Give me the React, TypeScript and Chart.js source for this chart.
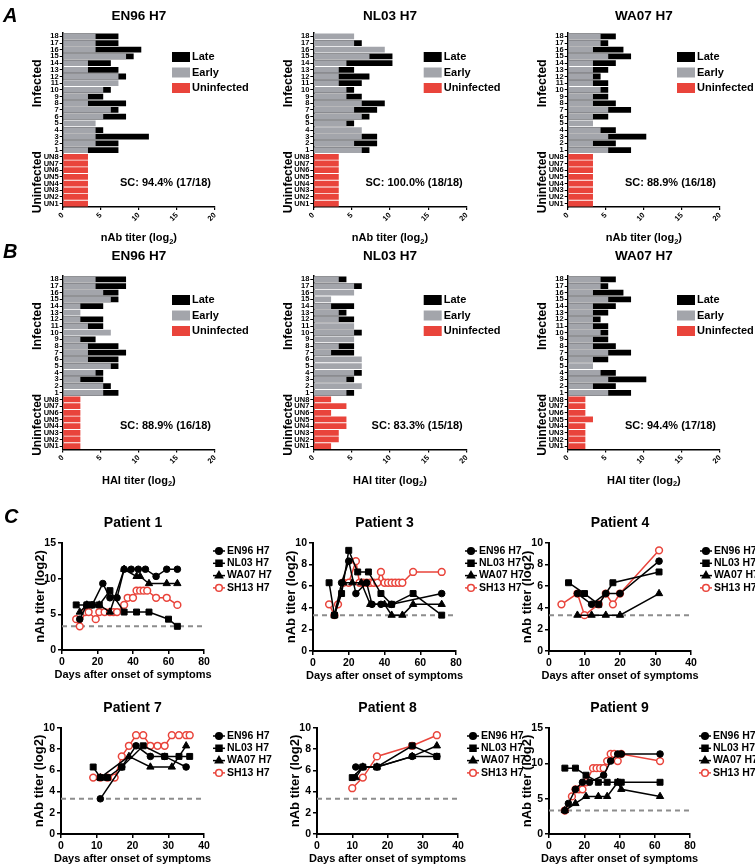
import React, { useEffect, useRef } from "react";
import { Chart, registerables } from "chart.js";
Chart.register(...registerables);

const FONT = "'Liberation Sans', Arial, Helvetica, sans-serif";
const GREY = "#a3a5ab";
const RED = "#e9443b";
const BLACK = "#000000";

// ---------- Panel A / B data (rows listed top → bottom: 18 … 1, UN8 … UN1) ----------
const infectedRows = ["18","17","16","15","14","13","12","11","10","9","8","7","6","5","4","3","2","1"];
const uninfectedRows = ["UN8","UN7","UN6","UN5","UN4","UN3","UN2","UN1"];

const aEN96Early = [4.32,4.32,4.32,8.32,3.32,3.32,7.32,7.32,5.32,3.32,3.32,6.32,5.32,4.32,4.32,4.32,4.32,3.32];
const aEN96Late = [7.32,7.32,10.32,9.32,6.32,7.32,8.32,null,6.32,5.32,8.32,7.32,8.32,null,5.32,11.32,7.32,7.32];
const aEN96Unin = [3.32,3.32,3.32,3.32,3.32,3.32,3.32,3.32];

const aNL03Early = [5.32,5.32,9.32,7.32,4.32,3.32,3.32,3.32,4.32,4.32,6.32,5.32,6.32,4.32,6.32,6.32,5.32,6.32];
const aNL03Late = [null,6.32,null,10.32,10.32,5.32,7.32,6.32,5.32,6.32,9.32,8.32,7.32,5.32,null,8.32,8.32,7.32];
const aNL03Unin = [3.32,3.32,3.32,3.32,3.32,3.32,3.32,3.32];

const aWA07Early = [4.32,4.32,3.32,5.32,3.32,3.32,3.32,3.32,4.32,3.32,3.32,5.32,3.32,3.32,4.32,5.32,3.32,5.32];
const aWA07Late = [6.32,5.32,7.32,8.32,6.32,5.32,4.32,5.32,5.32,5.32,6.32,8.32,5.32,null,6.32,10.32,6.32,8.32];
const aWA07Unin = [3.32,3.32,3.32,3.32,3.32,3.32,3.32,3.32];

const bEN96Early = [4.32,4.32,5.32,6.32,2.32,2.32,2.32,3.32,6.32,2.32,3.32,3.32,3.32,6.32,4.32,2.32,5.32,5.32];
const bEN96Late = [8.32,8.32,7.32,7.32,5.32,null,5.32,5.32,null,4.32,7.32,8.32,7.32,7.32,5.32,5.32,6.32,7.32];
const bEN96Unin = [2.32,2.32,2.32,2.32,2.32,2.32,2.32,2.32];

const bNL03Early = [3.32,5.32,5.32,2.32,2.32,3.32,3.32,5.32,5.32,5.32,3.32,2.32,6.32,6.32,5.32,4.32,6.32,4.32];
const bNL03Late = [4.32,6.32,null,null,5.32,4.32,5.32,null,6.32,null,5.32,5.32,null,null,6.32,5.32,null,5.32];
const bNL03Unin = [2.32,4.32,2.32,4.32,4.32,3.32,3.32,2.32];

const bWA07Early = [4.32,4.32,3.32,5.32,3.32,3.32,3.32,3.32,4.32,3.32,3.32,5.32,3.32,3.32,4.32,5.32,3.32,5.32];
const bWA07Late = [6.32,5.32,7.32,8.32,6.32,5.32,4.32,5.32,5.32,5.32,6.32,8.32,5.32,null,6.32,10.32,6.32,8.32];
const bWA07Unin = [2.32,2.32,2.32,3.32,2.32,2.32,2.32,2.32];

// ---------- Panel C data: [day, log2 titer] ----------
const p1EN96 = [[10,4.32],[14,6.32],[17,6.32],[23,9.32],[27,7.32],[31,7.32],[35,11.32],[39,11.32],[43,11.32],[47,11.32],[53,10.32],[59,11.32],[65,11.32]];
const p1NL03 = [[8,6.32],[14,6.32],[17,6.32],[21,6.32],[27,8.32],[35,5.32],[42,5.32],[49,5.32],[60,4.32],[65,3.32]];
const p1WA07 = [[10,5.32],[14,6.32],[21,6.32],[27,5.32],[35,11.32],[42,10.32],[44,10.32],[49,9.32],[59,9.32],[65,9.32]];
const p1SH13 = [[8,4.32],[10,3.32],[13,5.32],[15,5.32],[19,4.32],[21,5.32],[24,5.32],[27,5.32],[29,5.32],[31,5.32],[35,6.32],[37,7.32],[40,7.32],[42,8.32],[44,8.32],[46,8.32],[48,8.32],[53,7.32],[59,7.32],[65,6.32]];

const p3EN96 = [[12,3.32],[16,6.32],[20,8.32],[24,5.32],[30,6.32],[33,4.32],[38,4.32],[44,4.32],[72,5.32]];
const p3NL03 = [[9,6.32],[12,3.32],[16,5.32],[20,9.32],[25,7.32],[31,7.32],[38,5.32],[44,4.32],[56,5.32],[72,3.32]];
const p3WA07 = [[12,3.32],[17,6.32],[22,6.32],[27,6.32],[32,4.32],[40,4.32],[44,3.32],[50,3.32],[56,4.32],[72,4.32]];
const p3SH13 = [[9,4.32],[12,3.32],[14,4.32],[17,6.32],[20,6.32],[24,8.32],[26,6.32],[28,6.32],[30,6.32],[32,6.32],[34,6.32],[36,6.32],[38,7.32],[40,6.32],[42,6.32],[44,6.32],[46,6.32],[48,6.32],[50,6.32],[56,7.32],[72,7.32]];

const p4EN96 = [[8,5.32],[12,4.32],[16,5.32],[20,5.32],[31,8.32]];
const p4NL03 = [[5.5,6.32],[10,5.32],[14,4.32],[18,6.32],[31,7.32]];
const p4WA07 = [[8,3.32],[12,3.32],[16,3.32],[20,3.32],[31,5.32]];
const p4SH13 = [[3.5,4.32],[8,5.32],[10,3.32],[14,4.32],[16,5.32],[18,4.32],[20,5.32],[31,9.32]];

const p7EN96 = [[11,3.32],[17,6.32],[21,8.32],[25,7.32],[29,7.32],[35,6.32]];
const p7NL03 = [[9,6.32],[11,5.32],[13,5.32],[17,6.32],[23,8.32],[29,7.32],[33,7.32],[36,7.32]];
const p7WA07 = [[11,5.32],[19,7.32],[25,6.32],[31,6.32],[35,8.32]];
const p7SH13 = [[9,5.32],[11,5.32],[13,5.32],[15,5.32],[17,7.32],[19,8.32],[21,9.32],[23,9.32],[25,8.32],[27,8.32],[29,8.32],[31,9.32],[33,9.32],[35,9.32],[36,9.32]];

const p8EN96 = [[11,6.32],[13,6.32],[17,6.32],[27,7.32],[34,7.32]];
const p8NL03 = [[10,5.32],[13,6.32],[17,6.32],[27,8.32],[34,7.32]];
const p8WA07 = [[11,5.32],[13,6.32],[17,6.32],[27,7.32],[34,8.32]];
const p8SH13 = [[10,4.32],[13,5.32],[17,7.32],[27,8.32],[34,9.32]];

const p9EN96 = [[9,3.32],[11,4.32],[15,6.32],[19,7.32],[23,7.32],[31,8.32],[35,10.32],[39,11.32],[41,11.32],[63,11.32]];
const p9NL03 = [[9,9.32],[15,9.32],[21,8.32],[28,7.32],[33,7.32],[39,7.32],[41,7.32],[63,7.32]];
const p9WA07 = [[9,3.32],[15,4.32],[21,5.32],[28,5.32],[33,5.32],[39,7.32],[41,6.32],[63,5.32]];
const p9SH13 = [[9,3.32],[13,5.32],[15,6.32],[17,6.32],[19,6.32],[21,7.32],[25,9.32],[27,9.32],[29,9.32],[31,9.32],[33,10.32],[35,11.32],[37,11.32],[39,10.32],[41,11.32],[63,10.32]];

const seriesNames = ["EN96 H7", "NL03 H7", "WA07 H7", "SH13 H7"];
const detectionLimit = 3.32;

// ---------- helpers ----------
type Rect = { x: number; y: number; w: number; h: number };
type Area = { l: number; t: number; r: number; b: number };

function pad(rect: Rect, area: Area, yw: number, xh: number) {
  return {
    left: area.l - rect.x - yw,
    top: area.t - rect.y,
    right: rect.x + rect.w - area.r,
    bottom: rect.y + rect.h - area.b - xh,
  };
}

function txt(ctx: CanvasRenderingContext2D, s: string, x: number, y: number, font: string, align: CanvasTextAlign = "center", rot = 0, color = BLACK) {
  ctx.save();
  ctx.translate(x, y);
  if (rot) ctx.rotate(rot);
  ctx.font = font;
  ctx.fillStyle = color;
  ctx.textAlign = align;
  ctx.textBaseline = "middle";
  ctx.fillText(s, 0, 0);
  ctx.restore();
}

function subTitle(ctx: CanvasRenderingContext2D, pre: string, sub: string, post: string, cx: number, cy: number) {
  const f1 = `bold 11px ${FONT}`;
  const f2 = `bold 7.5px ${FONT}`;
  ctx.save();
  ctx.font = f1;
  const w1 = ctx.measureText(pre).width;
  const w3 = ctx.measureText(post).width;
  ctx.font = f2;
  const w2 = ctx.measureText(sub).width;
  let x = cx - (w1 + w2 + w3) / 2;
  ctx.fillStyle = BLACK;
  ctx.textAlign = "left";
  ctx.textBaseline = "alphabetic";
  ctx.font = f1; ctx.fillText(pre, x, cy + 4); x += w1;
  ctx.font = f2; ctx.fillText(sub, x, cy + 6.5); x += w2;
  ctx.font = f1; ctx.fillText(post, x, cy + 4);
  ctx.restore();
}

// ---------- bar charts (panels A, B) ----------
type BarSpec = {
  rect: Rect; area: Area; title: string; titleDy: number; xPre: string; sc: string;
  early: (number | null)[]; late: (number | null)[]; unin: number[];
};

function barConfig(s: BarSpec): any {
  const YW = 22, XH = 18;
  const none = (n: number) => Array(n).fill(null);
  const nInf = s.early.length, nUn = s.unin.length;
  const decor = {
    id: "decor",
    afterDraw(chart: any) {
      const ctx = chart.ctx as CanvasRenderingContext2D;
      const a = chart.chartArea;
      const y = chart.scales.y;
      const cx = (a.left + a.right) / 2;
      txt(ctx, s.title, cx, a.top - s.titleDy, `bold 13.5px ${FONT}`);
      subTitle(ctx, s.xPre + " titer (log", "2", ")", cx, a.bottom + 30);
      const yInf = (y.getPixelForValue(0) + y.getPixelForValue(nInf - 1)) / 2 - 10;
      const yUn = (y.getPixelForValue(nInf) + y.getPixelForValue(nInf + nUn - 1)) / 2 + 2;
      txt(ctx, "Infected", a.left - 25, yInf, `bold 12.5px ${FONT}`, "center", -Math.PI / 2);
      txt(ctx, "Uninfected", a.left - 25, yUn, `bold 12px ${FONT}`, "center", -Math.PI / 2);
      const items: [string, string][] = [["Late", BLACK], ["Early", GREY], ["Uninfected", RED]];
      const bx = a.right - 43;
      items.forEach(([label, color], i) => {
        const cy = a.top + 24 + i * 15.5;
        ctx.fillStyle = color;
        ctx.fillRect(bx, cy - 5, 18, 10);
        txt(ctx, label, bx + 20, cy, `bold 11px ${FONT}`, "left");
      });
      txt(ctx, s.sc, a.right - 4, a.bottom - 24, `bold 11px ${FONT}`, "right");
    },
  };
  return {
    type: "bar",
    data: {
      labels: [...infectedRows, ...uninfectedRows],
      datasets: [
        { label: "Early", data: [...s.early, ...none(nUn)], backgroundColor: GREY, grouped: false },
        { label: "Late", data: [...s.late, ...none(nUn)], backgroundColor: BLACK, grouped: false },
        { label: "Uninfected", data: [...none(nInf), ...s.unin], backgroundColor: RED, grouped: false },
      ],
    },
    options: {
      indexAxis: "y",
      responsive: false,
      animation: false,
      events: [],
      layout: { padding: pad(s.rect, s.area, YW, XH) },
      datasets: { bar: { categoryPercentage: 0.86, barPercentage: 1 } },
      plugins: { legend: { display: false }, tooltip: { enabled: false }, title: { display: false } },
      scales: {
        x: {
          type: "linear", min: 0, max: 20,
          ticks: { stepSize: 5, minRotation: 45, maxRotation: 45, color: BLACK, padding: 1, font: { family: FONT, size: 7.5, weight: "bold" } },
          grid: { drawOnChartArea: false, drawTicks: true, tickLength: 3, color: BLACK, lineWidth: 1.2 },
          border: { display: true, color: BLACK, width: 1.5 },
          afterFit: (sc: any) => { sc.height = XH; },
        },
        y: {
          ticks: { autoSkip: false, color: BLACK, padding: 1, font: { family: FONT, size: 7.5, weight: "bold" } },
          grid: { offset: false, drawOnChartArea: false, drawTicks: true, tickLength: 3, color: BLACK, lineWidth: 1 },
          border: { display: true, color: BLACK, width: 1.5 },
          afterFit: (sc: any) => { sc.width = YW; },
        },
      },
    },
    plugins: [decor],
  };
}

// ---------- line charts (panel C) ----------
type LineSpec = {
  rect: Rect; area: Area; title: string; xMax: number; xStep: number; yMax: number; yStep: number;
  series: number[][][];
};

const markerStyles = [
  { pointStyle: "circle", color: BLACK, fill: BLACK, r: 3.3 },
  { pointStyle: "rect", color: BLACK, fill: BLACK, r: 4.2 },
  { pointStyle: "triangle", color: BLACK, fill: BLACK, r: 4.2 },
  { pointStyle: "circle", color: RED, fill: "#ffffff", r: 3.4 },
];

function drawMarker(ctx: CanvasRenderingContext2D, style: string, x: number, y: number, stroke: string, fill: string) {
  ctx.save();
  ctx.fillStyle = fill;
  ctx.strokeStyle = stroke;
  ctx.lineWidth = 1.5;
  ctx.beginPath();
  if (style === "circle") ctx.arc(x, y, 3.3, 0, Math.PI * 2);
  else if (style === "rect") ctx.rect(x - 3, y - 3, 6, 6);
  else { ctx.moveTo(x, y - 4); ctx.lineTo(x + 3.6, y + 2.2); ctx.lineTo(x - 3.6, y + 2.2); ctx.closePath(); }
  ctx.fill();
  ctx.stroke();
  ctx.restore();
}

function lineConfig(s: LineSpec): any {
  const YW = 30, XH = 18;
  const decor = {
    id: "decor",
    afterDraw(chart: any) {
      const ctx = chart.ctx as CanvasRenderingContext2D;
      const a = chart.chartArea;
      const cx = (a.left + a.right) / 2;
      const cy = (a.top + a.bottom) / 2;
      txt(ctx, s.title, cx, a.top - 20, `bold 14px ${FONT}`);
      txt(ctx, "nAb titer (log2)", a.left - 22, cy, `bold 13px ${FONT}`, "center", -Math.PI / 2);
      txt(ctx, "Days after onset of symptoms", cx, a.bottom + 25, `bold 11px ${FONT}`);
      seriesNames.forEach((name, i) => {
        const st = markerStyles[i];
        const ly = a.top + 8 + i * 12.3;
        const lx = a.right + 9;
        ctx.save();
        ctx.strokeStyle = st.color;
        ctx.lineWidth = 1.5;
        ctx.beginPath(); ctx.moveTo(lx, ly); ctx.lineTo(lx + 12, ly); ctx.stroke();
        ctx.restore();
        drawMarker(ctx, st.pointStyle, lx + 6, ly, st.color, st.fill);
        txt(ctx, name, lx + 14, ly, `bold 10.5px ${FONT}`, "left");
      });
    },
  };
  const datasets: any[] = s.series.map((pts, i) => {
    const st = markerStyles[i];
    return {
      label: seriesNames[i],
      data: pts.map(([x, y]) => ({ x, y })),
      showLine: true,
      borderColor: st.color,
      borderWidth: 1.5,
      pointStyle: st.pointStyle,
      pointRadius: st.r,
      pointBackgroundColor: st.fill,
      pointBorderColor: st.color,
      pointBorderWidth: i === 3 ? 1.5 : 1,
    };
  });
  datasets.push({
    label: "limit",
    data: [{ x: 0, y: detectionLimit }, { x: s.xMax, y: detectionLimit }],
    showLine: true,
    borderColor: "#8d8d8d",
    borderWidth: 2,
    borderDash: [5, 4],
    pointRadius: 0,
  });
  return {
    type: "scatter",
    data: { datasets },
    options: {
      responsive: false,
      animation: false,
      events: [],
      layout: { padding: pad(s.rect, s.area, YW, XH) },
      plugins: { legend: { display: false }, tooltip: { enabled: false }, title: { display: false } },
      scales: {
        x: {
          type: "linear", min: 0, max: s.xMax,
          ticks: { stepSize: s.xStep, color: BLACK, padding: 2, maxRotation: 0, font: { family: FONT, size: 10.5, weight: "bold" } },
          grid: { drawOnChartArea: false, drawTicks: true, tickLength: 4, color: BLACK, lineWidth: 1.5 },
          border: { display: true, color: BLACK, width: 2 },
          afterFit: (sc: any) => { sc.height = XH; },
        },
        y: {
          type: "linear", min: 0, max: s.yMax,
          ticks: { stepSize: s.yStep, color: BLACK, padding: 2, font: { family: FONT, size: 10.5, weight: "bold" } },
          grid: { drawOnChartArea: false, drawTicks: true, tickLength: 4, color: BLACK, lineWidth: 1.5 },
          border: { display: true, color: BLACK, width: 2 },
          afterFit: (sc: any) => { sc.width = YW; },
        },
      },
    },
    plugins: [decor],
  };
}

// ---------- layout ----------
const barSpecs: BarSpec[] = [
  { rect: { x: 0, y: 0, w: 252, h: 250 }, area: { l: 62.7, t: 33, r: 215, b: 207 }, title: "EN96 H7", titleDy: 17, xPre: "nAb", sc: "SC: 94.4% (17/18)", early: aEN96Early, late: aEN96Late, unin: aEN96Unin },
  { rect: { x: 250, y: 0, w: 252, h: 250 }, area: { l: 313.3, t: 33, r: 466.7, b: 207 }, title: "NL03 H7", titleDy: 17, xPre: "nAb", sc: "SC: 100.0% (18/18)", early: aNL03Early, late: aNL03Late, unin: aNL03Unin },
  { rect: { x: 500, y: 0, w: 255, h: 250 }, area: { l: 567.7, t: 33, r: 720, b: 207 }, title: "WA07 H7", titleDy: 17, xPre: "nAb", sc: "SC: 88.9% (16/18)", early: aWA07Early, late: aWA07Late, unin: aWA07Unin },
  { rect: { x: 0, y: 240, w: 252, h: 255 }, area: { l: 62.7, t: 276, r: 215, b: 449.5 }, title: "EN96 H7", titleDy: 20, xPre: "HAI", sc: "SC: 88.9% (16/18)", early: bEN96Early, late: bEN96Late, unin: bEN96Unin },
  { rect: { x: 250, y: 240, w: 252, h: 255 }, area: { l: 313.3, t: 276, r: 466.7, b: 449.5 }, title: "NL03 H7", titleDy: 20, xPre: "HAI", sc: "SC: 83.3% (15/18)", early: bNL03Early, late: bNL03Late, unin: bNL03Unin },
  { rect: { x: 500, y: 240, w: 255, h: 255 }, area: { l: 567.7, t: 276, r: 720, b: 449.5 }, title: "WA07 H7", titleDy: 20, xPre: "HAI", sc: "SC: 94.4% (17/18)", early: bWA07Early, late: bWA07Late, unin: bWA07Unin },
];

const lineSpecs: LineSpec[] = [
  { rect: { x: 0, y: 500, w: 275, h: 185 }, area: { l: 62, t: 543, r: 204, b: 650 }, title: "Patient 1", xMax: 80, xStep: 20, yMax: 15, yStep: 5, series: [p1EN96, p1NL03, p1WA07, p1SH13] },
  { rect: { x: 250, y: 500, w: 275, h: 185 }, area: { l: 313, t: 543, r: 456, b: 651 }, title: "Patient 3", xMax: 80, xStep: 20, yMax: 10, yStep: 2, series: [p3EN96, p3NL03, p3WA07, p3SH13] },
  { rect: { x: 500, y: 500, w: 255, h: 185 }, area: { l: 549, t: 543, r: 691, b: 651 }, title: "Patient 4", xMax: 40, xStep: 10, yMax: 10, yStep: 2, series: [p4EN96, p4NL03, p4WA07, p4SH13] },
  { rect: { x: 0, y: 685, w: 275, h: 180 }, area: { l: 61, t: 728, r: 204, b: 834 }, title: "Patient 7", xMax: 40, xStep: 10, yMax: 10, yStep: 2, series: [p7EN96, p7NL03, p7WA07, p7SH13] },
  { rect: { x: 250, y: 685, w: 275, h: 180 }, area: { l: 317, t: 728, r: 458, b: 834 }, title: "Patient 8", xMax: 40, xStep: 10, yMax: 10, yStep: 2, series: [p8EN96, p8NL03, p8WA07, p8SH13] },
  { rect: { x: 500, y: 685, w: 255, h: 180 }, area: { l: 549, t: 728, r: 690, b: 834 }, title: "Patient 9", xMax: 80, xStep: 20, yMax: 15, yStep: 5, series: [p9EN96, p9NL03, p9WA07, p9SH13] },
];

function ChartCanvas({ rect, make }: { rect: Rect; make: () => any }) {
  const ref = useRef<HTMLCanvasElement>(null);
  useEffect(() => {
    const chart = new Chart(ref.current as HTMLCanvasElement, make());
    return () => chart.destroy();
  }, []);
  return (
    <canvas
      ref={ref}
      width={rect.w}
      height={rect.h}
      style={{ position: "absolute", left: rect.x, top: rect.y, width: rect.w, height: rect.h }}
    />
  );
}

const letterStyle = (left: number, top: number): React.CSSProperties => ({
  position: "absolute", left, top, font: `italic bold 20px ${FONT}`, lineHeight: "20px", color: BLACK,
});

export default function App() {
  return (
    <div style={{ position: "absolute", left: 0, top: 0, width: 755, height: 865, background: "#ffffff", overflow: "hidden" }}>
      {barSpecs.map((s, i) => (
        <ChartCanvas key={"bar" + i} rect={s.rect} make={() => barConfig(s)} />
      ))}
      {lineSpecs.map((s, i) => (
        <ChartCanvas key={"line" + i} rect={s.rect} make={() => lineConfig(s)} />
      ))}
      <div style={letterStyle(3, 5)}>A</div>
      <div style={letterStyle(3, 241)}>B</div>
      <div style={letterStyle(4, 506)}>C</div>
    </div>
  );
}
